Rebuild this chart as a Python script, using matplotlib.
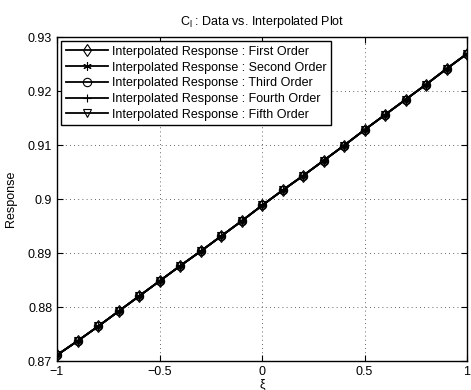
import matplotlib
matplotlib.use("Agg")
import matplotlib.pyplot as plt

plt.rcParams['font.family'] = ['Liberation Sans', 'DejaVu Sans']
plt.rcParams['mathtext.fontset'] = 'custom'
plt.rcParams['mathtext.rm'] = 'Liberation Sans'

xi = [-1.0, -0.9, -0.8, -0.7, -0.6, -0.5, -0.4, -0.3, -0.2, -0.1, 0.0,
      0.1, 0.2, 0.3, 0.4, 0.5, 0.6, 0.7, 0.8, 0.9, 1.0]
response = [0.8711, 0.8737, 0.8764, 0.8792, 0.8820, 0.8848, 0.8876, 0.8903,
            0.8931, 0.8959, 0.8988, 0.9016, 0.9043, 0.9071, 0.9099, 0.9128,
            0.9156, 0.9184, 0.9212, 0.9241, 0.9269]

series_names = ['First Order', 'Second Order', 'Third Order', 'Fourth Order', 'Fifth Order']
markers = ['d', (6, 2, 0), 'o', '+', 'v']

yticks = [0.87, 0.88, 0.89, 0.90, 0.91, 0.92, 0.93]
ytick_labels = ['0.87', '0.88', '0.89', '0.9', '0.91', '0.92', '0.93']
xticks = [-1, -0.5, 0, 0.5, 1]
xtick_labels = ['\u22121', '\u22120.5', '0', '0.5', '1']

fig = plt.figure(figsize=(4.71, 3.9), dpi=100)
ax = fig.add_axes([57 / 471, 1 - 361 / 390, 410 / 471, 324 / 390])

for name, m in zip(series_names, markers):
    ax.plot(xi, response, color='black', linewidth=1.3, marker=m,
            markersize=6, markerfacecolor='none', markeredgecolor='black',
            markeredgewidth=0.8, label='Interpolated Response : ' + name)

ax.set_xlim(-1, 1)
ax.set_ylim(0.87, 0.93)
ax.set_xticks(xticks)
ax.set_xticklabels(xtick_labels)
ax.set_yticks(yticks)
ax.set_yticklabels(ytick_labels)
ax.tick_params(direction='in', labelsize=9, top=True, right=True, length=4)
ax.grid(True, linestyle=(0, (1, 4)), color='black', linewidth=0.6, alpha=0.8)
for s in ax.spines.values():
    s.set_linewidth(1.0)

ax.set_title(r'C$_\mathregular{l}$ : Data vs. Interpolated Plot', fontsize=9, pad=9)
ax.set_xlabel('\u03be', fontsize=9, labelpad=0)
ax.set_ylabel('Response', fontsize=9, labelpad=8)

leg = ax.legend(loc='upper left', fontsize=9, frameon=True, fancybox=False,
                edgecolor='black', handlelength=3.4, borderaxespad=0.35,
                labelspacing=0.3, borderpad=0.35, handletextpad=0.3)
leg.get_frame().set_linewidth(1.0)
leg.get_frame().set_alpha(1)

fig.savefig('out.png', dpi=100)
